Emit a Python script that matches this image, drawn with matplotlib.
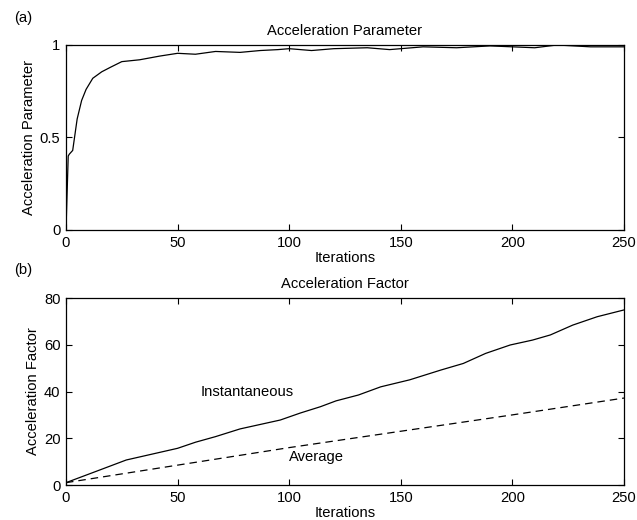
import matplotlib
matplotlib.use('Agg')
import matplotlib.pyplot as plt

plt.rcParams['font.family'] = ['Liberation Sans', 'DejaVu Sans']
plt.rcParams['font.size'] = 10.6

# acceleration parameter
par_x = [0, 1, 1.5, 3, 5, 7, 9, 12, 16, 20, 25, 33, 42, 50, 58, 67, 78, 87,
         95, 100, 110, 120, 135, 145, 160, 175, 190, 200, 210, 220, 235, 250]
par_y = [0, 0.40, 0.41, 0.43, 0.60, 0.70, 0.76, 0.82, 0.855, 0.88, 0.91, 0.92, 0.94,
         0.955, 0.95, 0.965, 0.96, 0.97, 0.975, 0.98, 0.97, 0.98, 0.985, 0.975,
         0.99, 0.985, 0.995, 0.99, 0.985, 1.0, 0.99, 0.99]

# acceleration factor
fac_x = [0, 12, 27, 50, 58, 67, 78, 96, 105, 114, 121, 131, 141, 154, 168, 178,
         188, 199, 209, 217, 227, 238, 250]
fac_y = [1, 5.3, 10.7, 15.7, 18.3, 20.7, 24, 27.8, 30.8, 33.5, 36, 38.5, 42,
         45, 49.2, 52, 56.3, 59.9, 62, 64.2, 68.4, 72, 74.9]
avg_x = [0, 50, 100, 150, 200, 250]
avg_y = [1, 8.5, 16, 23, 30, 37.2]

fig = plt.figure(figsize=(6.37, 5.2), dpi=100)
ax1 = fig.add_axes([0.1036, 0.5577, 0.876, 0.3558])
ax2 = fig.add_axes([0.1036, 0.0673, 0.876, 0.3596])

ax1.plot(par_x, par_y, color='k', lw=0.9)
ax1.set_xlim(0, 250)
ax1.set_ylim(0, 1)
ax1.set_yticks([0, 0.5, 1])
ax1.set_yticklabels(['0', '0.5', '1'])
ax1.set_xlabel('Iterations', labelpad=1)
ax1.set_ylabel('Acceleration Parameter', labelpad=3)
ax1.set_title('Acceleration Parameter', pad=7, fontsize=10.6)

ax2.plot(fac_x, fac_y, color='k', lw=0.9)
ax2.plot(avg_x, avg_y, color='k', lw=0.9, ls=(0, (6, 4)))
ax2.set_xlim(0, 250)
ax2.set_ylim(0, 80)
ax2.set_yticks([0, 20, 40, 60, 80])
ax2.set_xlabel('Iterations', labelpad=1)
ax2.set_ylabel('Acceleration Factor', labelpad=3)
ax2.set_title('Acceleration Factor', pad=7, fontsize=10.6)
ax2.text(81, 39.7, 'Instantaneous', ha='center', va='center')
ax2.text(112, 12.1, 'Average', ha='center', va='center')

for ax in (ax1, ax2):
    ax.set_xticks([0, 50, 100, 150, 200, 250])
    ax.tick_params(direction='in', top=True, right=True, length=4, width=0.8, pad=4)
    for s in ax.spines.values():
        s.set_linewidth(0.9)

fig.text(14 / 637, 1 - 18 / 520, '(a)', ha='left', va='center')
fig.text(14 / 637, 1 - 270 / 520, '(b)', ha='left', va='center')

fig.savefig('out.png', dpi=100)
